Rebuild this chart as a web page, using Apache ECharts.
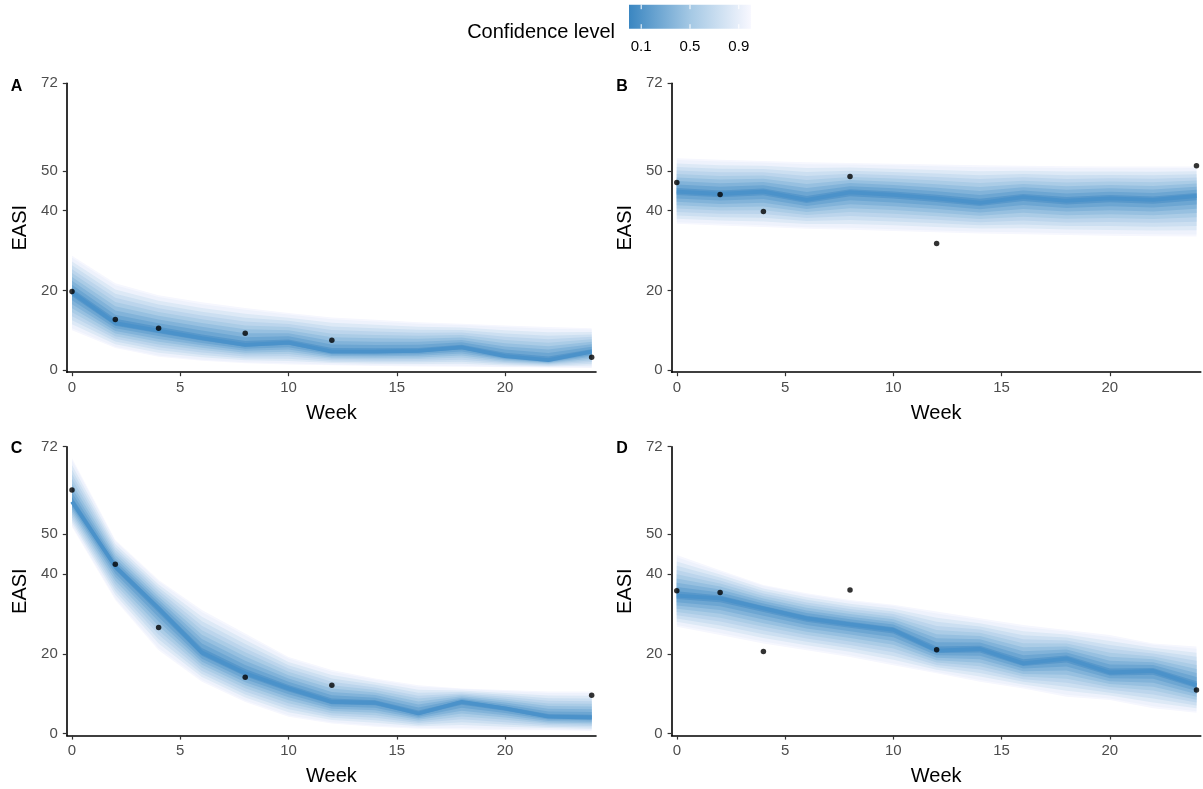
<!DOCTYPE html>
<html>
<head>
<meta charset="utf-8">
<script src="https://cdn.jsdelivr.net/npm/echarts@6/dist/echarts.min.js"></script>
<style>
html,body{margin:0;padding:0;background:#fff;}
#chart{width:1203px;height:789px;}
</style>
</head>
<body>
<div id="chart"></div>
<script>
// ---------------- DATA ----------------
const weeks = [0, 2, 4, 6, 8, 10, 12, 14, 16, 18, 20, 22, 24];
const obsWeeks = [0, 2, 4, 8, 12, 24];
const xTicks = [0, 5, 10, 15, 20];
const yTicks = [0, 20, 40, 50, 72];
const panelTags = ['A', 'B', 'C', 'D'];
const legendTicks = [0.1, 0.5, 0.9];

// Panel A
const medianA = [19.5, 11.8, 9.9, 8.0, 6.3, 6.9, 4.6, 4.6, 4.8, 5.7, 3.5, 2.5, 4.6];
const lowerA  = [10.0, 5.5, 3.3, 2.3, 1.7, 1.4, 1.2, 1.0, 0.9, 0.8, 0.7, 0.6, 0.5];
const upperA  = [28.7, 21.8, 18.8, 17.0, 15.6, 14.3, 13.2, 12.6, 12.0, 11.6, 11.2, 10.8, 10.5];
const obsA    = [19.7, 12.7, 10.5, 9.2, 7.5, 3.2];
// Panel B
const medianB = [44.8, 44.2, 44.8, 42.7, 44.6, 44.0, 43.1, 42.0, 43.4, 42.5, 43.1, 42.7, 43.7];
const lowerB  = [36.7, 36.3, 35.9, 35.5, 35.2, 34.9, 34.6, 34.3, 34.1, 33.9, 33.7, 33.6, 33.5];
const upperB  = [53.2, 52.8, 52.5, 52.2, 52.0, 51.8, 51.6, 51.4, 51.3, 51.2, 51.1, 51.1, 51.1];
const obsB    = [47.1, 44.1, 39.8, 48.6, 31.8, 51.3];
// Panel C
const medianC = [58.2, 41.9, 31.4, 20.3, 15.1, 11.3, 7.9, 7.7, 5.0, 7.9, 6.3, 4.2, 4.0];
const lowerC  = [51.9, 33.5, 20.9, 13.0, 7.9, 4.2, 2.5, 1.7, 1.2, 1.0, 0.8, 0.8, 0.6];
const upperC  = [69.1, 48.6, 38.5, 31.0, 25.1, 19.2, 15.9, 13.8, 12.1, 11.3, 10.9, 10.5, 10.5];
const obsC    = [61.1, 42.5, 26.6, 14.1, 12.1, 9.6];
// Panel D
const medianD = [34.6, 33.9, 31.4, 28.9, 27.4, 26.0, 20.8, 21.2, 17.6, 18.8, 15.3, 15.7, 12.1];
const lowerD  = [26.8, 24.7, 22.6, 20.9, 19.2, 17.1, 15.1, 13.0, 11.3, 9.2, 8.4, 6.3, 5.2];
const upperD  = [44.8, 41.0, 37.3, 35.2, 33.5, 32.3, 30.6, 28.9, 27.2, 26.0, 24.7, 22.6, 21.8];
const obsD    = [35.8, 35.4, 20.6, 36.0, 21.0, 10.9];

// confidence levels of the fan (outer bounds above are the outermost level)
const levels = [0.95, 0.9, 0.8, 0.7, 0.6, 0.5, 0.4, 0.3, 0.2, 0.1];

// ---------------- LAYOUT / STYLE ----------------
const panels = [
  {med: medianA, lo: lowerA, hi: upperA, obs: obsA, left: 66.8, top: 83.3},
  {med: medianB, lo: lowerB, hi: upperB, obs: obsB, left: 671.6, top: 83.3},
  {med: medianC, lo: lowerC, hi: upperC, obs: obsC, left: 66.8, top: 446.7},
  {med: medianD, lo: lowerD, hi: upperD, obs: obsD, left: 671.6, top: 446.7}
];
const GW = 529.2, GH = 288.9;
const FONT = '"Liberation Sans", Arial, Helvetica, sans-serif';

const colorStops = [[0, [58, 134, 193]], [0.5, [164, 200, 228]], [1, [248, 248, 255]]];
function levelColor(p) {
  p = Math.min(1, p);
  for (let i = 0; i < colorStops.length - 1; i++) {
    const a = colorStops[i], b = colorStops[i + 1];
    if (p >= a[0] && p <= b[0]) {
      const t = (p - a[0]) / (b[0] - a[0]);
      const c = a[1].map((v, k) => Math.round(v + (b[1][k] - v) * t));
      return 'rgb(' + c.join(',') + ')';
    }
  }
  return 'rgb(248,248,255)';
}

const grids = [], xAxes = [], yAxes = [], series = [];
panels.forEach((p, gi) => {
  grids.push({left: p.left, top: p.top, width: GW, height: GH, containLabel: false, outerBoundsMode: 'none'});
  xAxes.push({
    type: 'value', gridIndex: gi, min: -0.24, max: 24.2,
    name: 'Week', nameLocation: 'middle', nameGap: 31,
    nameTextStyle: {fontSize: 20, color: '#000', fontFamily: FONT},
    axisLine: {show: true, onZero: false, lineStyle: {color: '#000', width: 1.6}},
    axisTick: {show: true, length: 4, customValues: xTicks, lineStyle: {color: '#333', width: 1.2}},
    axisLabel: {customValues: xTicks, color: '#4d4d4d', fontSize: 15, margin: 8, fontFamily: FONT},
    splitLine: {show: false}
  });
  yAxes.push({
    type: 'value', gridIndex: gi, min: -0.55, max: 72,
    name: 'EASI', nameLocation: 'middle', nameGap: 36, nameRotate: 90,
    nameTextStyle: {fontSize: 20, color: '#000', fontFamily: FONT},
    axisLine: {show: true, onZero: false, lineStyle: {color: '#000', width: 1.6}},
    axisTick: {show: true, length: 4, customValues: yTicks, lineStyle: {color: '#333', width: 1.2}},
    axisLabel: {customValues: yTicks, color: '#4d4d4d', fontSize: 15, margin: 9, fontFamily: FONT, padding: [3, 0, 0, 0]},
    splitLine: {show: false}
  });

  levels.forEach((lv, li) => {
    const r = lv / levels[0];
    const data = weeks.map((w, i) => [
      w,
      p.med[i] - (p.med[i] - p.lo[i]) * r,
      p.med[i] + (p.hi[i] - p.med[i]) * r
    ]);
    const fill = levelColor(lv + 0.04);
    series.push({
      type: 'custom', xAxisIndex: gi, yAxisIndex: gi, silent: true, z: 1 + li * 0.01,
      data: data, encode: {x: 0, y: [1, 2]},
      renderItem: function (params, api) {
        if (params.dataIndex !== 0) return;
        const n = data.length;
        const pts = [];
        for (let i = 0; i < n; i++) pts.push(api.coord([api.value(0, i), api.value(2, i)]));
        for (let i = n - 1; i >= 0; i--) pts.push(api.coord([api.value(0, i), api.value(1, i)]));
        return {type: 'polygon', shape: {points: pts}, style: {fill: fill, stroke: null}};
      }
    });
  });

  series.push({
    type: 'line', xAxisIndex: gi, yAxisIndex: gi, z: 3,
    data: weeks.map((w, i) => [w, p.med[i]]),
    showSymbol: false, symbol: 'none', silent: true,
    lineStyle: {color: '#4b92ca', width: 3.8}
  });
  series.push({
    type: 'scatter', xAxisIndex: gi, yAxisIndex: gi, z: 4,
    data: obsWeeks.map((w, i) => [w, p.obs[i]]),
    symbol: 'circle', symbolSize: 5.5, silent: true,
    itemStyle: {color: '#000'}
  });
});

// ---------------- LEGEND + TAGS (graphic) ----------------
const barX0 = 629, barX1 = 751, barY0 = 4.7, barY1 = 28.7;
const graphics = [];
graphics.push({
  type: 'text', x: 615, y: 32,
  style: {text: 'Confidence level', fontSize: 20, fontFamily: FONT, fill: '#000', align: 'right', verticalAlign: 'middle'}
});
graphics.push({
  type: 'rect', shape: {x: barX0, y: barY0, width: barX1 - barX0, height: barY1 - barY0},
  style: {
    fill: new echarts.graphic.LinearGradient(0, 0, 1, 0,
      colorStops.map(s => ({offset: s[0], color: 'rgb(' + s[1].join(',') + ')'})))
  }
});
legendTicks.forEach(t => {
  const x = barX0 + (barX1 - barX0) * t;
  graphics.push({type: 'line', shape: {x1: x, y1: barY0, x2: x, y2: barY0 + 4.5}, style: {stroke: '#fff', lineWidth: 1}});
  graphics.push({type: 'line', shape: {x1: x, y1: barY1 - 4.5, x2: x, y2: barY1}, style: {stroke: '#fff', lineWidth: 1}});
  graphics.push({
    type: 'text', x: x, y: 46.7,
    style: {text: t.toFixed(1), fontSize: 15, fontFamily: FONT, fill: '#000', align: 'center', verticalAlign: 'middle'}
  });
});
const tagPos = [[16.5, 87], [622, 87], [16.5, 449], [622, 449]];
panelTags.forEach((t, i) => {
  graphics.push({
    type: 'text', x: tagPos[i][0], y: tagPos[i][1],
    style: {text: t, fontSize: 16, fontWeight: 'bold', fontFamily: FONT, fill: '#000', align: 'center', verticalAlign: 'middle'}
  });
});

const chart = echarts.init(document.getElementById('chart'), null, {renderer: 'canvas'});
chart.setOption({
  animation: false,
  backgroundColor: '#fff',
  grid: grids,
  xAxis: xAxes,
  yAxis: yAxes,
  series: series,
  graphic: graphics
});
</script>
</body>
</html>
